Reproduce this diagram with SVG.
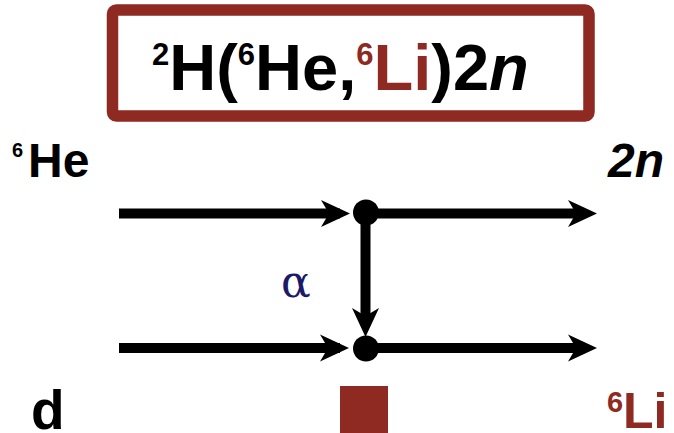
<svg xmlns="http://www.w3.org/2000/svg" xmlns:xlink="http://www.w3.org/1999/xlink" width="674" height="433" viewBox="0 0 674 433">
  <style>
    .lbl { font-family: "Liberation Sans", Arial, sans-serif; font-weight: bold; fill: #000; }
    .red { fill: #8e2a22; }
    .line { stroke: #000; stroke-width: 10; fill: none; }
    .vtx { fill: #000; }
  </style>
  <defs>
    <!-- barbed arrowhead, tip at the origin, pointing along +x -->
    <path id="ah" d="M0,0 L-29,-13.5 L-21,0 L-29,13.5 Z" fill="#000"/>
  </defs>
  <rect width="674" height="433" fill="#fff"/>

  <!-- reaction title -->
  <g id="title">
    <rect x="112.5" y="10" width="476.5" height="106" rx="4" fill="#fff" stroke="#8e2a22" stroke-width="11.5"/>
    <text class="lbl" x="152" y="90" font-size="65"><tspan font-size="31" dy="-25">2</tspan><tspan dy="25">H(</tspan><tspan font-size="31" dy="-25">6</tspan><tspan dy="25">He,</tspan><tspan class="red" font-size="31" dy="-25">6</tspan><tspan class="red" dy="25">Li</tspan><tspan>)2</tspan><tspan font-style="italic">n</tspan></text>
  </g>

  <!-- particle labels -->
  <g id="label-he6">
    <text class="lbl" x="12" y="157" font-size="20">6</text>
    <text class="lbl" x="28" y="177" font-size="48">He</text>
  </g>
  <g id="label-2n">
    <text class="lbl" x="664" y="177" font-size="48" font-style="italic" text-anchor="end">2n</text>
  </g>
  <g id="label-d">
    <text class="lbl" x="31" y="429" font-size="55">d</text>
  </g>
  <g id="label-li6">
    <text class="lbl red" x="607" y="412" font-size="29">6</text>
    <text class="lbl red" x="623" y="428" font-size="50">Li</text>
  </g>
  <g id="label-alpha">
    <text x="281" y="297" font-family="'DejaVu Serif', serif" font-size="44" fill="#1a1a66">α</text>
  </g>

  <!-- connectors -->
  <g id="connectors">
    <line class="line" x1="119" y1="213.5" x2="340" y2="213.5"/>
    <use xlink:href="#ah" transform="translate(350,213.5)"/>
    <line class="line" x1="366" y1="213.5" x2="585" y2="213.5"/>
    <use xlink:href="#ah" transform="translate(597,213.5)"/>

    <line class="line" x1="119" y1="348" x2="340" y2="348"/>
    <use xlink:href="#ah" transform="translate(349,348)"/>
    <line class="line" x1="366" y1="348" x2="585" y2="348"/>
    <use xlink:href="#ah" transform="translate(597,348)"/>

    <line class="line" x1="365.5" y1="213" x2="365.5" y2="326" stroke-width="9"/>
    <use xlink:href="#ah" transform="translate(365.5,337) rotate(90)"/>
  </g>

  <!-- vertices -->
  <g id="vertex-top">
    <circle class="vtx" cx="366" cy="212.5" r="13"/>
  </g>
  <g id="vertex-bottom">
    <circle class="vtx" cx="366" cy="348.5" r="13"/>
  </g>
  <g id="marker-li6">
    <rect x="340" y="386" width="48" height="47" class="red"/>
  </g>
</svg>
